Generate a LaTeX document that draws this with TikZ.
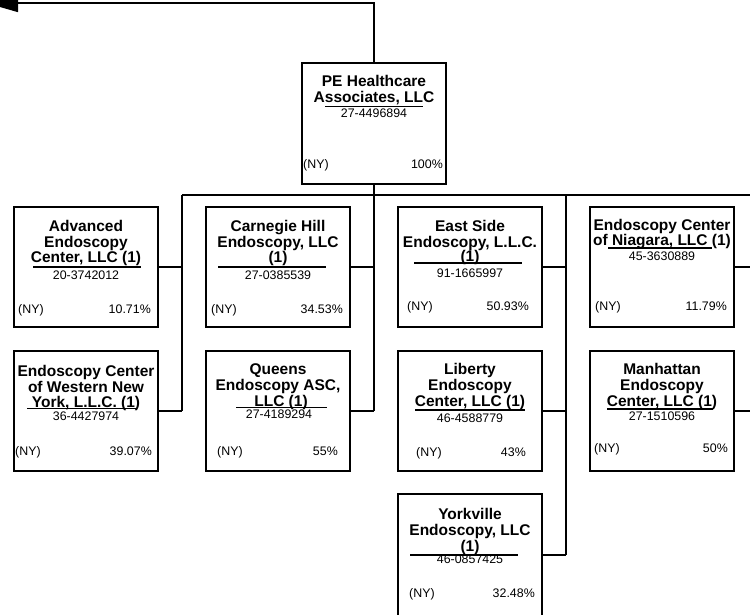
\documentclass[tikz,border=0pt]{standalone}
\usepackage{fontspec}
\setmainfont{Liberation Sans}
\usetikzlibrary{arrows.meta}
\tikzset{
  orgbox/.style={draw=black, line width=1.8pt, minimum width=144pt, minimum height=120pt, inner sep=0pt, fill=white},
  nm/.style={font=\fontsize{15.5}{16}\selectfont\bfseries, anchor=base, inner sep=0pt},
  ein/.style={font=\fontsize{12.4}{14}\selectfont, anchor=base, inner sep=0pt},
  ny/.style={font=\fontsize{12.4}{14}\selectfont, anchor=base west, inner sep=0pt},
  pct/.style={font=\fontsize{12.4}{14}\selectfont, anchor=base east, inner sep=0pt},
  ul/.style={line width=1.5pt},
  conn/.style={line width=1.4pt},
  busthick/.style={line width=2.4pt}
}
\begin{document}
\begin{tikzpicture}[x=1pt,y=-1pt]
\useasboundingbox (0,0) rectangle (750,615);
\clip (0,0) rectangle (750,615);
\fill[white] (0,0) rectangle (750,615);

% coordinates for connector routing
\coordinate (top) at (374,3);
\coordinate (tip) at (-14,3);
\coordinate (busL) at (182,195);
\coordinate (busC) at (374,195);
\coordinate (busR) at (770,195);
\coordinate (c1b) at (182,411);
\coordinate (c1a) at (182,267);
\coordinate (c2b) at (374,411);
\coordinate (c2a) at (374,267);
\coordinate (c3t) at (566,195);
\coordinate (c3a) at (566,267);
\coordinate (c3b) at (566,411);
\coordinate (c3c) at (566,555);
\coordinate (c4t) at (758,195);
\coordinate (c4a) at (758,267);
\coordinate (c4b) at (758,411);

% connectors
\draw[conn, -{Triangle[length=32pt,width=18pt]}] (374,63) -- (top) -- (tip);
\draw[conn] (busL) -- (busC);
\draw[busthick] (busC) -- (busR);
\draw[conn] (374,184) -- (busC);
\draw[conn] (busL) -- (c1b);
\draw[conn] (busC) -- (c2b);
\draw[conn] (c3t) -- (c3c);
\draw[conn] (c4t) -- (c4b);

% ---------- PE Healthcare ----------
\node[orgbox, minimum height=121pt] (pe) at (374,123.5) {};
\node[nm] (pe1) at (374,87) {PE Healthcare};
\node[nm] (pe2) at (374,103) {Associates, LLC};
\draw[ul] (325,106.5) -- (423,106.5);
\node[ein] (pee) at (374,118) {27-4496894};
\node[ny] (pen) at (303,168) {(NY)};
\node[pct] (pep) at (443,168) {100\%};

% ---------- Advanced ----------
\node[orgbox] (adv) at (86,267) {};
\node[nm] (adv1) at (86,231) {Advanced};
\node[nm] (adv2) at (86,247) {Endoscopy};
\node[nm] (adv3) at (86,262.5) {Center, LLC (1)};
\draw[ul] (33,267) -- (141,267);
\node[ein] (adve) at (86,279) {20-3742012};
\node[ny] (advn) at (18,313) {(NY)};
\node[pct] (advp) at (151,313) {10.71\%};
\draw[conn] (adv.east) -- (c1a);

% ---------- Carnegie Hill ----------
\node[orgbox] (car) at (278,267) {};
\node[nm] (car1) at (278,231) {Carnegie Hill};
\node[nm] (car2) at (278,247) {Endoscopy, LLC};
\node[nm] (car3) at (278,262.5) {(1)};
\draw[ul] (218,267) -- (326,267);
\node[ein] (care) at (278,279) {27-0385539};
\node[ny] (carn) at (211,313) {(NY)};
\node[pct] (carp) at (343,313) {34.53\%};
\draw[conn] (car.east) -- (c2a);

% ---------- East Side ----------
\node[orgbox] (eas) at (470,267) {};
\node[nm] (eas1) at (470,231) {East Side};
\node[nm] (eas2) at (470,247) {Endoscopy, L.L.C.};
\node[nm] (eas3) at (470,261.5) {(1)};
\draw[ul] (414,263) -- (522,263);
\node[ein] (ease) at (470,277) {91-1665997};
\node[ny] (easn) at (407,310) {(NY)};
\node[pct] (easp) at (529,310) {50.93\%};
\draw[conn] (eas.east) -- (c3a);

% ---------- Niagara ----------
\node[orgbox] (nia) at (662,267) {};
\node[nm] (nia1) at (662,230) {Endoscopy Center};
\node[nm] (nia2) at (662,245.5) {of Niagara, LLC (1)};
\draw[ul] (608,248) -- (712,248);
\node[ein] (niae) at (662,260) {45-3630889};
\node[ny] (nian) at (595,310) {(NY)};
\node[pct] (niap) at (727,310) {11.79\%};
\draw[conn] (nia.east) -- (c4a);

% ---------- Western New York ----------
\node[orgbox] (wny) at (86,411) {};
\node[nm] (wny1) at (86,376) {Endoscopy Center};
\node[nm] (wny2) at (86,392) {of Western New};
\node[nm] (wny3) at (86,407) {York, L.L.C. (1)};
\draw[ul] (27,408.5) -- (137,408.5);
\node[ein] (wnye) at (86,420.5) {36-4427974};
\node[ny] (wnyn) at (15,455) {(NY)};
\node[pct] (wnyp) at (152,455) {39.07\%};
\draw[conn] (wny.east) -- (c1b);

% ---------- Queens ----------
\node[orgbox] (que) at (278,411) {};
\node[nm] (que1) at (278,374) {Queens};
\node[nm] (que2) at (278,390) {Endoscopy ASC,};
\node[nm] (que3) at (281,406) {LLC (1)};
\draw[ul] (236,407.5) -- (327,407.5);
\node[ein] (quee) at (279,418.5) {27-4189294};
\node[ny] (quen) at (217,455) {(NY)};
\node[pct] (quep) at (338,455) {55\%};
\draw[conn] (que.east) -- (c2b);

% ---------- Liberty ----------
\node[orgbox] (lib) at (470,411) {};
\node[nm] (lib1) at (470,374) {Liberty};
\node[nm] (lib2) at (470,390) {Endoscopy};
\node[nm] (lib3) at (470,406.5) {Center, LLC (1)};
\draw[ul] (415,410) -- (525,410);
\node[ein] (libe) at (470,422) {46-4588779};
\node[ny] (libn) at (416,456) {(NY)};
\node[pct] (libp) at (526,456) {43\%};
\draw[conn] (lib.east) -- (c3b);

% ---------- Manhattan ----------
\node[orgbox] (man) at (662,411) {};
\node[nm] (man1) at (662,374) {Manhattan};
\node[nm] (man2) at (662,390) {Endoscopy};
\node[nm] (man3) at (662,406) {Center, LLC (1)};
\draw[ul] (607,409) -- (713,409);
\node[ein] (mane) at (662,420) {27-1510596};
\node[ny] (mann) at (594,452) {(NY)};
\node[pct] (manp) at (728,452) {50\%};
\draw[conn] (man.east) -- (c4b);

% ---------- Yorkville ----------
\node[orgbox, minimum height=122pt] (yor) at (470,555) {};
\node[nm] (yor1) at (470,519) {Yorkville};
\node[nm] (yor2) at (470,535) {Endoscopy, LLC};
\node[nm] (yor3) at (470,551) {(1)};
\node[ein] (yore) at (470,563) {46-0857425};
\draw[ul] (410,555) -- (518,555);
\node[ny] (yorn) at (409,597) {(NY)};
\node[pct] (yorp) at (535,597) {32.48\%};
\draw[conn] (yor.east) -- (c3c);
\end{tikzpicture}
\end{document}
